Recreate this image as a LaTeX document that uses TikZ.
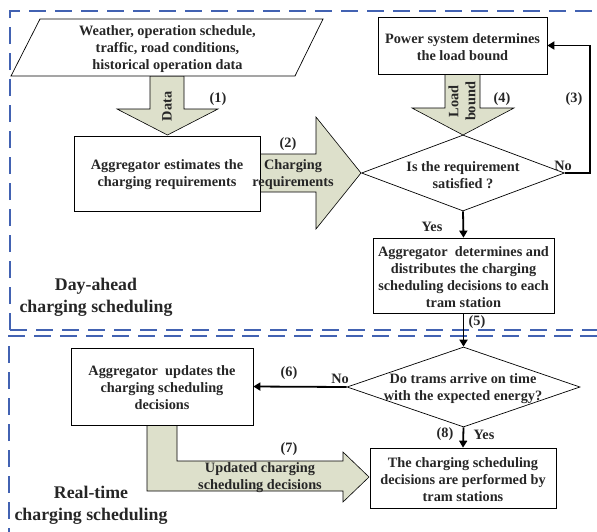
\documentclass[tikz,border=0pt]{standalone}
\usepackage{fontspec}
\setmainfont{Liberation Serif}
\usetikzlibrary{arrows.meta,shapes.geometric}
\definecolor{dashblue}{HTML}{4262B2}
\definecolor{arrowfill}{HTML}{DDE0CB}
\definecolor{textc}{HTML}{262626}
\begin{document}
\begin{tikzpicture}[x=1pt,y=-1pt,
  txt/.style={font=\bfseries\fontsize{14.3}{17}\selectfont, text=textc, align=center, inner sep=0, yshift=-1.5pt},
  bigtxt/.style={font=\bfseries\fontsize{17.8}{22}\selectfont, text=textc, align=center, inner sep=0, yshift=-1.5pt},
  box/.style={draw, line width=0.7pt, fill=white, inner sep=0},
  dia/.style={draw, diamond, line width=0.7pt, fill=white, inner sep=0, aspect=2.6},
  flow/.style={draw, line width=0.6pt, fill=arrowfill},
  conn/.style={line width=1.8pt, -{Triangle[length=7pt,width=8pt]}},
  region/.style={draw=dashblue, line width=2pt, dash pattern=on 17pt off 9pt}]
\useasboundingbox (0,0) rectangle (597,531);
\clip (0,0) rectangle (597,531);
% regions
\draw[region] (10,330) -- (10,11) -- (610,11);
\draw[region] (10,330) -- (610,330);
\draw[region] (9,545) -- (9,336) -- (610,336);
% big flow arrows
\draw[flow] (150,76) -- (150,109) -- (117,109) -- (167.5,135) -- (218,109) -- (184,109) -- (184,76) -- cycle;
\draw[flow] (445,74) -- (445,108) -- (412,108) -- (463,135) -- (514,108) -- (480,108) -- (480,74) -- cycle;
\draw[flow] (260,154) -- (316,154) -- (316,117) -- (361,173) -- (316,229) -- (316,192) -- (260,192) -- cycle;
\draw[flow] (147,425) -- (147,491) -- (343,491) -- (343,502) -- (369,477) -- (343,452) -- (343,461) -- (177,461) -- (177,425) -- cycle;
% input parallelogram
\draw[line width=0.7pt, fill=white] (40,19) -- (323,19) -- (295,76) -- (11,76) -- cycle;
\node[txt] (inp) at (167.5,47.5) {Weather, operation schedule,\\traffic, road conditions,\\historical operation data};
% boxes
\node[box, minimum width=186, minimum height=75] (est) at (167,173.5) {};
\node[txt] at (est.center) {Aggregator estimates the\\charging requirements};
\node[box, minimum width=169, minimum height=57] (power) at (462.5,45.5) {};
\node[txt] at (power.center) {Power system determines\\the load bound};
\node[dia, minimum width=203, minimum height=76] (d1) at (463,173) {};
\node[txt] at (463,174) {Is the requirement\\satisfied ?};
\node[box, minimum width=181, minimum height=75] (det) at (463.5,275.5) {};
\node[txt] at (det.center) {Aggregator\ \ determines and\\distributes the charging\\scheduling decisions to each\\tram station};
\node[dia, minimum width=233, minimum height=80] (d2) at (463.5,387) {};
\node[txt] at (463,387.5) {Do trams arrive on time\\with the expected energy?};
\node[box, minimum width=182, minimum height=77] (upd) at (162,386.5) {};
\node[txt] at (upd.center) {Aggregator\ \ updates the\\charging scheduling\\decisions};
\node[box, minimum width=186, minimum height=60] (perf) at (463,478) {};
\node[txt] at (perf.center) {The charging scheduling\\decisions are performed by\\tram stations};
% connectors
\coordinate (loop) at (590,173);
\draw[conn] (d1.south) -- (det.north);
\draw[conn] (d1.east) -- (loop) |- (power.east);
\draw[conn] (det.south) -- (d2.north);
\draw[conn] (d2.west) -- (upd.east);
\draw[conn] (d2.south) -- (perf.north);
% labels on flow arrows
\node[txt, rotate=90] at (167,105) {Data};
\node[txt, rotate=90] at (462,100) {Load\\bound};
\node[txt] at (293,173) {Charging\\requirements};
\node[txt] at (260,476.5) {Updated charging\\scheduling decisions};
% step numbers
\node[txt] at (218,98) {(1)};
\node[txt] at (288,143) {(2)};
\node[txt] at (574,98) {(3)};
\node[txt] at (502,98) {(4)};
\node[txt] at (477,321) {(5)};
\node[txt] at (289,372) {(6)};
\node[txt] at (289,448) {(7)};
\node[txt] at (445,433) {(8)};
\node[txt] at (563,164) {No};
\node[txt] at (432,225) {Yes};
\node[txt] at (340,377) {No};
\node[txt] at (484,433) {Yes};
% region titles
\node[bigtxt] at (96,296) {Day-ahead\\charging scheduling};
\node[bigtxt] at (91,504) {Real-time\\charging scheduling};
\end{tikzpicture}
\end{document}
